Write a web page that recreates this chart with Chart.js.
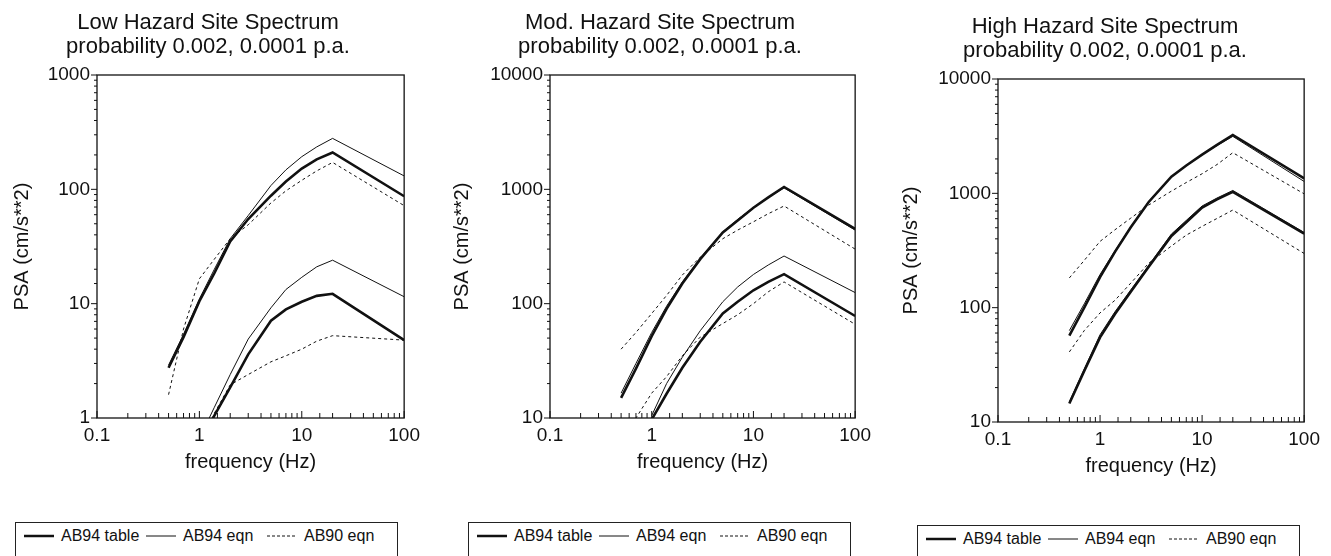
<!DOCTYPE html>
<html lang="en">
<head>
    <meta charset="UTF-8">
    <title>Site Spectra</title>
    <script src="https://cdn.jsdelivr.net/npm/chart.js"></script>
    <style>
        body { margin: 0; width: 1331px; height: 556px; overflow: hidden; background: #fff; position: relative; }
        canvas { position: absolute; }
        .legend {
            position: absolute; width: 381px; height: 33px; border: 1px solid #222;
            font: 16px "Liberation Sans", Arial, sans-serif; color: #111; background: #fff;
        }
        .legend svg { position: absolute; top: 8px; }
        .legend span { position: absolute; top: 4px; line-height: 18px; white-space: nowrap; }
    </style>
</head>
<body>
    <canvas id="lowChart" width="426" height="478" style="left:0px; top:0px;"></canvas>
    <canvas id="modChart" width="424" height="478" style="left:453px; top:0px;"></canvas>
    <canvas id="highChart" width="432" height="478" style="left:894px; top:4px;"></canvas>

<script>
    // frequences (Hz) communes a toutes les courbes
    const freqs = [0.5, 0.7, 1, 1.4, 2, 3, 5, 7, 10, 14, 20, 100];
    const seriesNames = ['AB94 table', 'AB94 eqn', 'AB90 eqn'];
    const xTickValues = [0.1, 1, 10, 100];
    const xTickLabels = ['0.1', '1', '10', '100'];
    const lowYTicks = [1, 10, 100, 1000];
    const lowYLabels = ['1', '10', '100', '1000'];
    const modYTicks = [10, 100, 1000, 10000];
    const modYLabels = ['10', '100', '1000', '10000'];

    // Low hazard : 0.0001 p.a. (haut) et 0.002 p.a. (bas)
    const lowTableUpper = [2.75, 5.1, 10.5, 18.5, 35, 55, 88, 117, 152, 183, 210, 87];
    const lowEqnUpper   = [2.9, 5.4, 11, 20, 37, 59, 108, 148, 193, 235, 279, 131];
    const lowAb90Upper  = [1.6, 6, 16.5, 24.5, 37, 49, 76, 97, 120, 145, 172, 72];
    const lowTableLower = [null, null, 0.6, 1.05, 1.85, 3.6, 7.1, 8.9, 10.4, 11.7, 12.2, 4.8];
    const lowEqnLower   = [null, null, 0.66, 1.24, 2.4, 4.9, 9.2, 13.3, 17, 21, 24, 11.5];
    const lowAb90Lower  = [null, null, 0.5, 1.1, 1.95, 2.4, 3.1, 3.5, 4.0, 4.7, 5.25, 4.8];

    // Mod. hazard
    const modTableUpper = [15, 27, 52, 90, 150, 245, 420, 535, 690, 850, 1050, 450];
    const modEqnUpper   = [16.5, 30, 56, 95, 155, 250, 425, 545, 695, 850, 1030, 440];
    const modAb90Upper  = [40, 56, 82, 118, 178, 255, 370, 440, 520, 612, 715, 300];
    const modTableLower = [null, null, 9.7, 16.3, 27.5, 46.5, 82, 104, 131, 155, 181, 78];
    const modEqnLower   = [null, null, 10.5, 20, 34, 58, 104, 140, 180, 218, 261, 125];
    const modAb90Lower  = [5.8, 10, 16.5, 23, 35, 51, 67, 80, 100, 127, 155, 66];

    // High hazard
    const highTableUpper = [57, 100, 185, 308, 505, 840, 1400, 1750, 2180, 2650, 3240, 1350];
    const highEqnUpper   = [63, 108, 195, 315, 510, 850, 1400, 1750, 2180, 2620, 3150, 1270];
    const highAb90Upper  = [182, 259, 380, 480, 607, 790, 1045, 1244, 1483, 1786, 2266, 990];
    const highTableLower = [14.5, 28, 55, 88, 138, 228, 424, 558, 750, 887, 1030, 445];
    const highEqnLower   = [15, 29, 58, 92, 143, 235, 440, 580, 775, 910, 1060, 455];
    const highAb90Lower  = [41, 63, 90, 116, 164, 245, 346, 431, 514, 603, 714, 298];

    const FONT = '"Liberation Sans", Arial, Helvetica, sans-serif';
    const INK = '#111';

    function isDecade(v) {
        const l = Math.log10(v);
        return Math.abs(l - Math.round(l)) < 1e-6;
    }

    function labelFor(values, labels) {
        return (v) => {
            const i = values.findIndex(t => Math.abs(v - t) / t < 1e-6);
            return i >= 0 ? labels[i] : '';
        };
    }

    // cadre complet + graduations (x vers l'interieur, y vers l'exterieur)
    const frameAndTicks = {
        id: 'frameAndTicks',
        afterDraw(chart) {
            const { ctx, chartArea: a, scales: { x, y } } = chart;
            ctx.save();
            ctx.strokeStyle = INK;
            ctx.lineWidth = 1.3;
            ctx.strokeRect(a.left, a.top, a.right - a.left, a.bottom - a.top);
            ctx.lineWidth = 1;
            ctx.beginPath();
            x.ticks.forEach(t => {
                const px = x.getPixelForValue(t.value);
                const len = isDecade(t.value) ? 7 : 5;
                ctx.moveTo(px, a.bottom);
                ctx.lineTo(px, a.bottom - len);
            });
            y.ticks.forEach(t => {
                const py = y.getPixelForValue(t.value);
                const len = isDecade(t.value) ? 6 : 3;
                ctx.moveTo(a.left, py);
                ctx.lineTo(a.left - len, py);
            });
            ctx.stroke();
            ctx.restore();
        }
    };

    function toPoints(vals) {
        return freqs.map((f, i) => ({ x: f, y: vals[i] }));
    }

    function makeDatasets(groups) {
        const styles = [
            { borderWidth: 2.6, borderDash: [] },
            { borderWidth: 1, borderDash: [] },
            { borderWidth: 1, borderDash: [3, 3] }
        ];
        const out = [];
        groups.forEach(group => {
            group.forEach((vals, k) => {
                out.push({
                    label: seriesNames[k],
                    data: toPoints(vals),
                    showLine: true,
                    borderColor: INK,
                    borderWidth: styles[k].borderWidth,
                    borderDash: styles[k].borderDash,
                    pointRadius: 0,
                    tension: 0,
                    fill: false
                });
            });
        });
        return out;
    }

    function makeChart(id, title, groups, yMin, yMax, yTicks, yLabels, yWidth, yTitlePad) {
        return new Chart(document.getElementById(id), {
            type: 'scatter',
            data: { datasets: makeDatasets(groups) },
            options: {
                responsive: false,
                animation: false,
                devicePixelRatio: 1,
                events: [],
                layout: { padding: { left: 10, right: 20, top: 0, bottom: 0 } },
                plugins: {
                    legend: { display: false },
                    tooltip: { enabled: false },
                    title: {
                        display: true,
                        text: title,
                        color: INK,
                        font: { family: FONT, size: 22, weight: 'normal', lineHeight: 24 / 22 },
                        padding: { top: 11, bottom: 16 }
                    }
                },
                scales: {
                    x: {
                        type: 'logarithmic',
                        min: 0.1,
                        max: 100,
                        grid: { display: false, drawTicks: false },
                        border: { display: false },
                        ticks: {
                            autoSkip: false, maxRotation: 0, padding: 6, color: INK,
                            font: { family: FONT, size: 19 },
                            callback: labelFor(xTickValues, xTickLabels)
                        },
                        title: {
                            display: true, text: 'frequency (Hz)', color: INK,
                            font: { family: FONT, size: 20, lineHeight: 1.2 },
                            padding: { top: 0, bottom: 4 }
                        },
                        afterFit: (s) => { s.height = 60; }
                    },
                    y: {
                        type: 'logarithmic',
                        min: yMin,
                        max: yMax,
                        grid: { display: false, drawTicks: false },
                        border: { display: false },
                        ticks: {
                            autoSkip: false, padding: 7, color: INK,
                            font: { family: FONT, size: 19 },
                            callback: labelFor(yTicks, yLabels)
                        },
                        title: {
                            display: true, text: 'PSA (cm/s**2)', color: INK,
                            font: { family: FONT, size: 20, lineHeight: 1.2 },
                            padding: { top: yTitlePad, bottom: 0 }
                        },
                        afterFit: (s) => { s.width = yWidth; }
                    }
                }
            },
            plugins: [frameAndTicks]
        });
    }

    makeChart('lowChart', ['Low Hazard Site Spectrum', 'probability 0.002, 0.0001 p.a.'],
        [[lowTableUpper, lowEqnUpper, lowAb90Upper], [lowTableLower, lowEqnLower, lowAb90Lower]],
        1, 1000, lowYTicks, lowYLabels, 87, 0.5);
    makeChart('modChart', ['Mod. Hazard Site Spectrum', 'probability 0.002, 0.0001 p.a.'],
        [[modTableUpper, modEqnUpper, modAb90Upper], [modTableLower, modEqnLower, modAb90Lower]],
        10, 10000, modYTicks, modYLabels, 87, -12.5);
    makeChart('highChart', ['High Hazard Site Spectrum', 'probability 0.002, 0.0001 p.a.'],
        [[highTableUpper, highEqnUpper, highAb90Upper], [highTableLower, highEqnLower, highAb90Lower]],
        10, 10000, modYTicks, modYLabels, 94, -4.3);

    // legendes encadrees sous chaque graphique
    const legendSpots = [[15, 522], [468, 522], [917, 525]];
    const sampleLeft = [8, 130, 251];
    const sampleStroke = [
        'stroke-width="2.5"',
        'stroke-width="1"',
        'stroke-width="1" stroke-dasharray="3,2"'
    ];
    legendSpots.forEach(([left, top]) => {
        const box = document.createElement('div');
        box.className = 'legend';
        box.style.left = left + 'px';
        box.style.top = top + 'px';
        let html = '';
        seriesNames.forEach((name, k) => {
            const sl = sampleLeft[k];
            html += '<svg style="left:' + sl + 'px" width="30" height="10">' +
                '<line x1="0" y1="5" x2="30" y2="5" stroke="#111" ' + sampleStroke[k] + '/></svg>' +
                '<span style="left:' + (sl + 37) + 'px">' + name + '</span>';
        });
        box.innerHTML = html;
        document.body.appendChild(box);
    });
</script>
</body>
</html>
